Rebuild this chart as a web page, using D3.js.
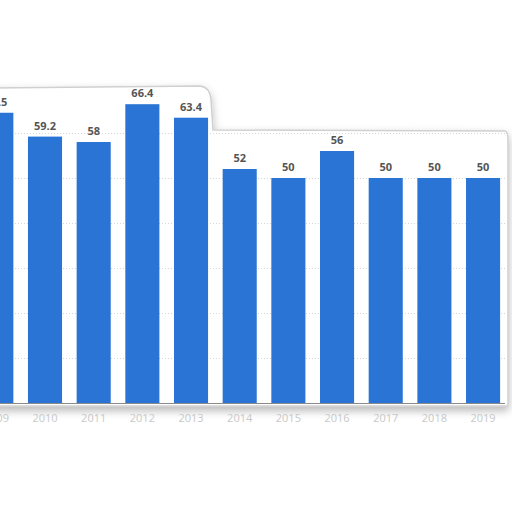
<!DOCTYPE html>
<html lang="en">
<head>
<meta charset="UTF-8">
<title>Bar chart</title>
<script src="https://d3js.org/d3.v7.min.js"></script>
<style>
  body, html { margin: 0; padding: 0; background: #fff; overflow: hidden; }
  .grid line { stroke: #d6d6d6; stroke-dasharray: 1,2; }
  .value { font: bold 11px "Open Sans", sans-serif; fill: #555; text-anchor: middle; }
  .year { font: 11px "Open Sans", sans-serif; fill: #c8c8c8; text-anchor: middle; }
</style>
</head>
<body>
<script>
// chart data
const years = ["2009", "2010", "2011", "2012", "2013", "2014", "2015", "2016", "2017", "2018", "2019"];
const values = [64.5, 59.2, 58, 66.4, 63.4, 52, 50, 56, 50, 50, 50];
const gridTicks = [10, 20, 30, 40, 50, 60];

const width = 512, height = 512;
const baseY = 403;

const svg = d3.select("body").append("svg")
  .attr("width", width)
  .attr("height", height);

const defs = svg.append("defs");
const shadow = defs.append("filter").attr("id", "shadow")
  .attr("x", "-10%").attr("y", "-10%").attr("width", "120%").attr("height", "120%");
shadow.append("feDropShadow")
  .attr("dx", 0).attr("dy", 4).attr("stdDeviation", 4)
  .attr("flood-color", "#000").attr("flood-opacity", 0.28);

// card behind the plot (odd stepped top edge)
svg.append("path")
  .attr("d", "M-10,88 L200,86 Q210,87 211,100 L213,130 L505,131 Q508,132 508,140 L508,406 L-10,406 Z")
  .attr("fill", "#fff")
  .attr("stroke", "#d0d0d0")
  .attr("stroke-width", 1.5)
  .attr("filter", "url(#shadow)");

const x = d3.scaleBand()
  .domain(years)
  .range([-28, 507.4])
  .paddingInner(0.3)
  .paddingOuter(0.15);

const y = d3.scaleLinear()
  .domain([0, 70])
  .range([baseY, baseY - 315]);

// dotted grid
svg.append("g").attr("class", "grid")
  .selectAll("line")
  .data(gridTicks)
  .join("line")
  .attr("x1", 0).attr("x2", 505)
  .attr("y1", d => Math.round(y(d)) + 0.5)
  .attr("y2", d => Math.round(y(d)) + 0.5);

// bars
svg.append("g")
  .selectAll("rect")
  .data(values)
  .join("rect")
  .attr("x", (d, i) => x(years[i]))
  .attr("y", d => y(d))
  .attr("width", x.bandwidth())
  .attr("height", d => baseY - y(d))
  .attr("fill", "#2a74d6");

// value labels
svg.append("g")
  .selectAll("text")
  .data(values)
  .join("text")
  .attr("class", "value")
  .attr("x", (d, i) => x(years[i]) + x.bandwidth() / 2)
  .attr("y", d => y(d) - 7)
  .text(d => d);

// baseline
svg.append("line")
  .attr("x1", 0).attr("x2", 505)
  .attr("y1", baseY + 0.5).attr("y2", baseY + 0.5)
  .attr("stroke", "#8a8a8a")
  .attr("stroke-width", 1.2);

// year axis labels
svg.append("g")
  .selectAll("text")
  .data(years)
  .join("text")
  .attr("class", "year")
  .attr("x", d => x(d) + x.bandwidth() / 2)
  .attr("y", baseY + 19)
  .text(d => d);
</script>
</body>
</html>
